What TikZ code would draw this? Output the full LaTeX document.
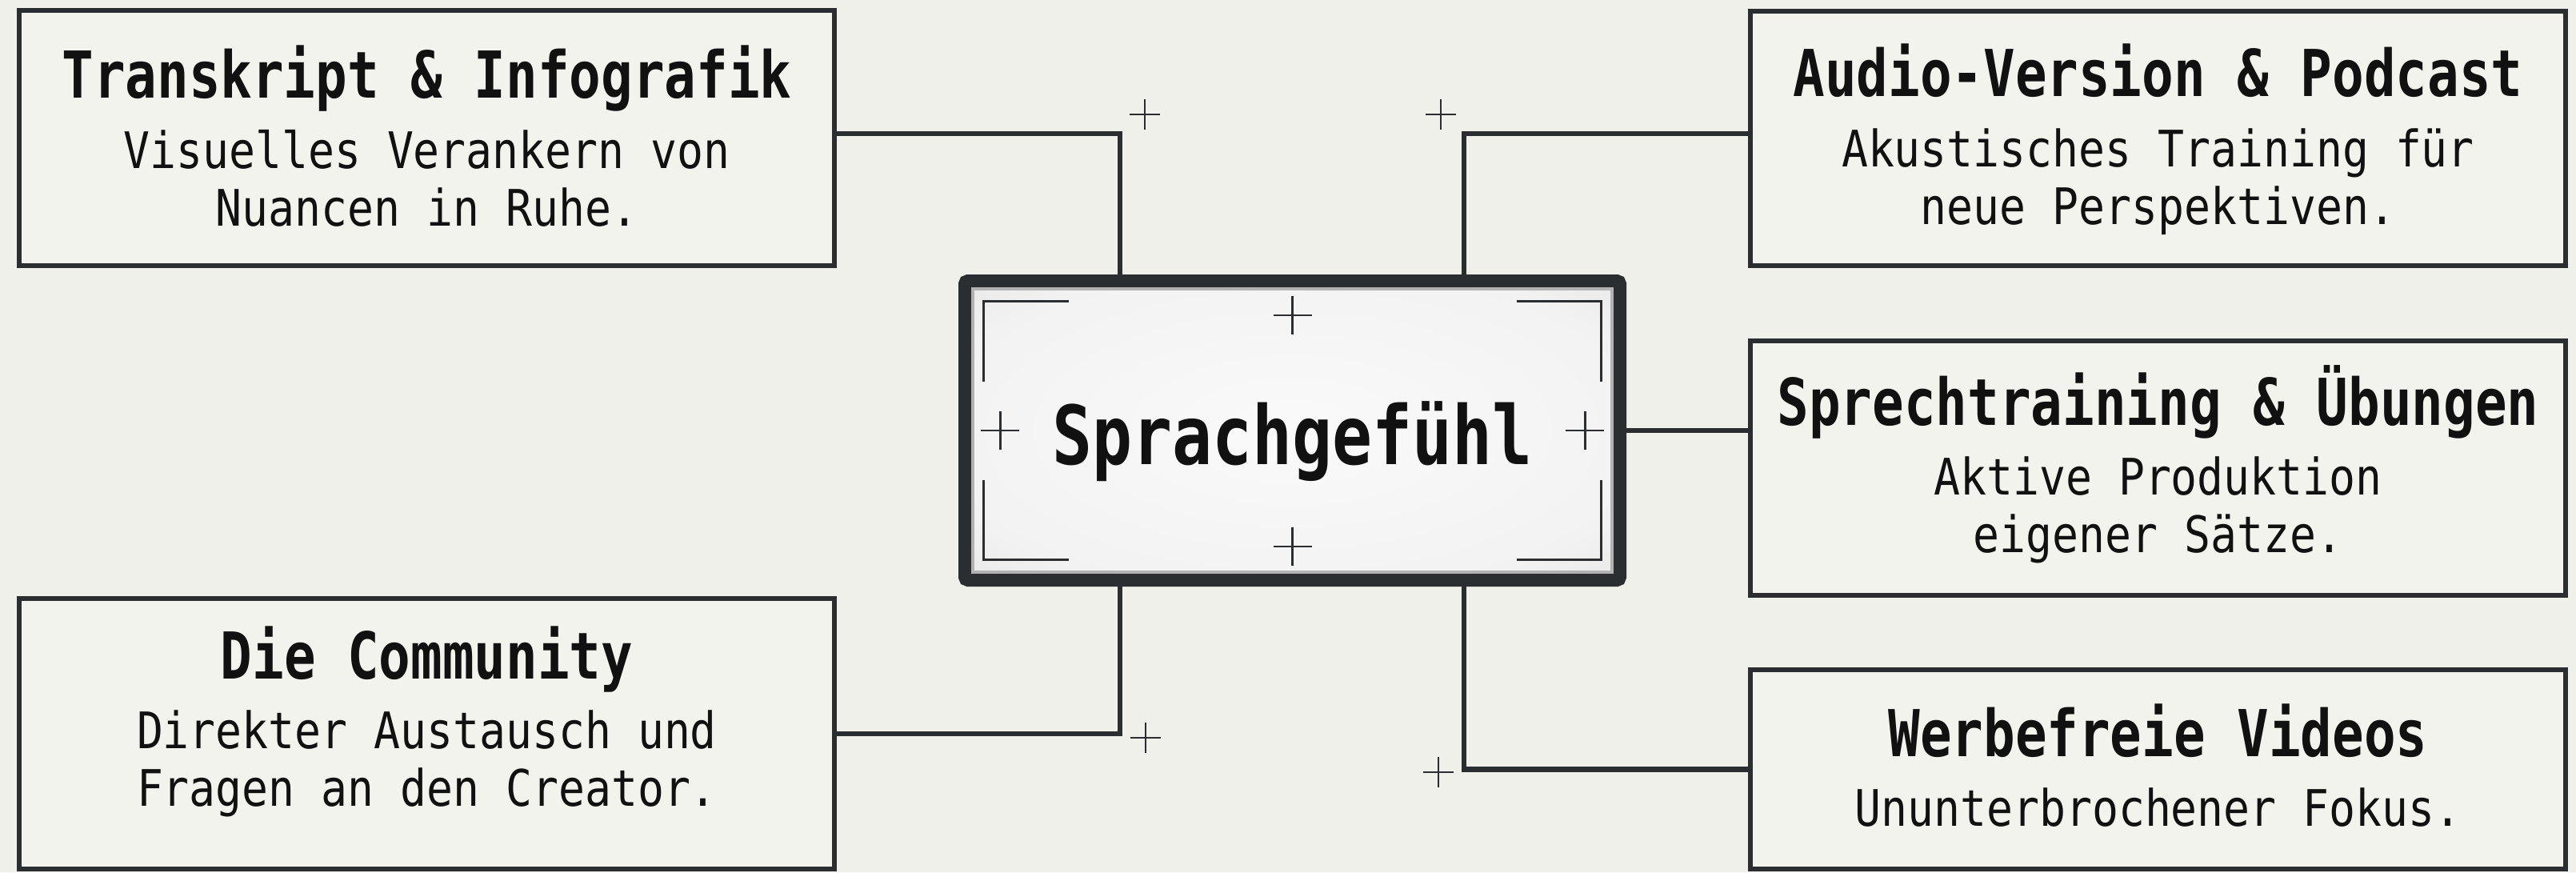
\documentclass[tikz,border=0pt]{standalone}
\usepackage{fontspec}
\usepackage{tikz}
\usetikzlibrary{calc,positioning}

\newfontfamily\headfont{DejaVu Sans Mono}[FakeStretch=0.815]
\newfontfamily\bodyfont{DejaVu Sans Mono}[FakeStretch=0.87]

\definecolor{paper}{HTML}{F0F0EA}
\definecolor{cardfill}{HTML}{F3F3EE}
\definecolor{ink}{HTML}{2B2E30}
\definecolor{letter}{HTML}{111111}

\pgfdeclareradialshading{vignette}{\pgfpoint{0bp}{0bp}}{%
  color(0bp)=(white!98!black); color(28bp)=(white!95!black);
  color(44bp)=(black!13); color(50bp)=(black!24); color(72bp)=(black!32)}

\tikzset{
  card/.style={draw=ink,line width=1.7pt,fill=cardfill,minimum width=10.19cm,inner sep=0},
  head/.style={inner sep=0,outer sep=0,anchor=base,text=letter,
    font=\headfont\bfseries\fontsize{23}{27}\selectfont},
  body/.style={inner sep=0,outer sep=0,align=center,text=letter,
    font=\bodyfont\fontsize{17.9}{20.5}\selectfont},
  wire/.style={draw=ink,line width=1.85pt},
  tick/.style={draw=ink,line width=0.7pt},
  bracket/.style={draw=ink,line width=1.1pt}
}

\begin{document}
\begin{tikzpicture}
    \useasboundingbox (0,0) rectangle (32.2,10.9);
    \fill[paper] (0,0) rectangle (32.2,10.9);

    % the five cards
    \node[card,minimum height=3.19cm](b1) at (5.335,9.175) {};
    \node[card,minimum height=3.18cm](b2) at (26.975,9.17) {};
    \node[card,minimum height=3.18cm](b3) at (26.975,5.05) {};
    \node[card,minimum height=3.38cm](b4) at (5.335,1.73) {};
    \node[card,minimum height=2.49cm](b5) at (26.975,1.285) {};

    \node[head](t1) at (5.335,9.68) {Transkript \& Infografik};
    \node[body,below=0.40cm of t1.base](x1) {Visuelles Verankern von\\Nuancen in Ruhe.};
    \node[head](t2) at (26.975,9.69) {Audio-Version \& Podcast};
    \node[body,below=0.40cm of t2.base](x2) {Akustisches Training für\\neue Perspektiven.};
    \node[head](t3) at (26.975,5.59) {Sprechtraining \& Übungen};
    \node[body,below=0.40cm of t3.base](x3) {Aktive Produktion\\eigener Sätze.};
    \node[head](t4) at (5.335,2.42) {Die Community};
    \node[body,below=0.40cm of t4.base](x4) {Direkter Austausch und\\Fragen an den Creator.};
    \node[head](t5) at (26.975,1.45) {Werbefreie Videos};
    \node[body,below=0.40cm of t5.base](x5) {Ununterbrochener Fokus.};

    % connectors
    \draw[wire] ([yshift=0.055cm]b1.east) -| ($(16.155,7.47)+(-2.155,0)$) coordinate(j1);
    \draw[wire] ([yshift=0.06cm]b2.west) -| ($(16.155,7.47)+(2.145,0)$) coordinate(j2);
    \draw[wire] ($(16.155,3.57)+(-2.155,0)$) coordinate(j4) |- (b4.east);
    \draw[wire] ($(16.155,3.57)+(2.145,0)$) coordinate(j5) |- (b5.west);
    \draw[wire] (20.33,5.52) coordinate(j3) -- (j3 -| b3.west);

    % centre node
    \node[draw=ink,line width=0.16cm,rounded corners=0.04cm,shading=vignette,
          minimum width=8.19cm,minimum height=3.74cm](m) at (16.155,5.52) {};
    \draw[black!30,line width=0.035cm] ([shift={(0.178,0.178)}]m.south west)
        rectangle ([shift={(-0.178,-0.178)}]m.north east);
    \foreach \sx/\sy in {-1/1,1/1,-1/-1,1/-1}
        \draw[bracket] ($(m)+(\sx*2.80,\sy*1.615)$) -- ($(m)+(\sx*3.86,\sy*1.615)$)
            -- ($(m)+(\sx*3.86,\sy*0.615)$);
    \foreach \dx/\dy in {0/1.44,0/-1.45,-3.655/0,3.655/0}
        \draw[tick,line width=0.85pt] ($(m)+(\dx-0.24,\dy)$) -- ($(m)+(\dx+0.24,\dy)$)
            ($(m)+(\dx,\dy-0.24)$) -- ($(m)+(\dx,\dy+0.24)$);
    \node[head,font=\headfont\bfseries\fontsize{29}{34}\selectfont](mt)
        at ($(m)+(0,-0.42)$) {Sprachgefühl};

    % free crosses
    \foreach \x/\y in {14.31/9.47,18.01/9.47,14.32/1.68,17.98/1.25}
        \draw[tick] (\x-0.19,\y) -- (\x+0.19,\y) (\x,\y-0.19) -- (\x,\y+0.19);
\end{tikzpicture}
\end{document}
